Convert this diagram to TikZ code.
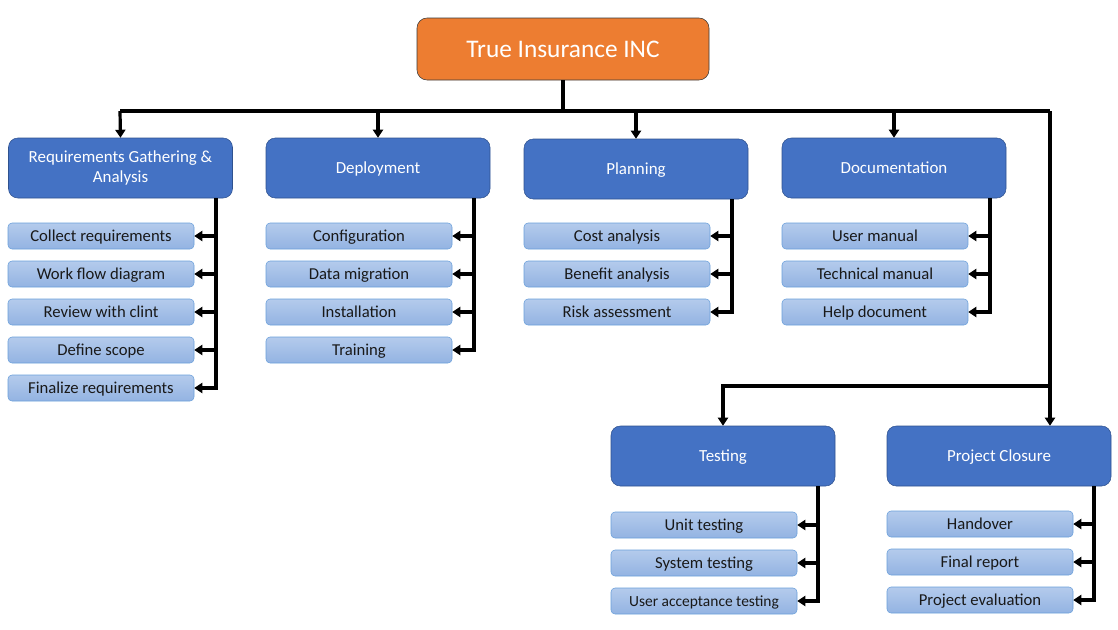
\documentclass[tikz,border=0pt]{standalone}
\usepackage{fontspec}
\setmainfont{Carlito}
\usetikzlibrary{arrows.meta}
\definecolor{rootorange}{HTML}{ED7D31}
\definecolor{rootedge}{HTML}{3A3A3A}
\definecolor{mainblue}{HTML}{4472C4}
\definecolor{mainedge}{HTML}{2F528F}
\definecolor{subtop}{HTML}{B4CBEC}
\definecolor{subbot}{HTML}{93B3E2}
\definecolor{subedge}{HTML}{6A9FDA}

\begin{document}
\begin{tikzpicture}[x=0.75pt,y=-0.75pt,
    rootbox/.style={draw=rootedge,fill=rootorange,rounded corners=7.5pt,minimum width=219pt,minimum height=46.5pt,text=white,font=\fontsize{19}{21}\selectfont},
    mainbox/.style={draw=mainedge,fill=mainblue,rounded corners=7pt,minimum width=168pt,minimum height=45pt,text=white,align=center,text height=10pt,text depth=2.5pt,font=\fontsize{12.7}{15}\selectfont},
    subbox/.style={draw=subedge,top color=subtop,bottom color=subbot,rounded corners=3pt,minimum width=139.5pt,minimum height=19.5pt,inner sep=0pt,text height=10pt,text depth=2pt,text=black!90,font=\fontsize{12.5}{14}\selectfont},
    line/.style={line width=2.4pt,line join=miter},
    arr/.style={line width=2.4pt,-{Triangle[width=7.5pt,length=6pt]}}]
  \useasboundingbox (0,0) rectangle (1118,629);
  %顶层
  \node[rootbox] (root) at (563,49) {True Insurance INC};
  \node[mainbox,text height={},text depth={}] (req) at (120.5,168) {Requirements Gathering \&\\Analysis};
  \node[mainbox] (dep) at (378,168) {Deployment};
  \node[mainbox] (plan) at (636,169) {Planning};
  \node[mainbox] (doc) at (894,168) {Documentation};
  \node[mainbox] (test) at (723,456) {Testing};
  \node[mainbox] (close) at (999,456) {Project Closure};
  %总线
  \coordinate (bus) at (120,111);
  \coordinate (busr) at (1050,111);
  \coordinate (fork) at (1050,386);
  \draw[line] (root.south) -- (root.south |- bus);
  \draw[line] (bus) -- (busr);
  \draw[arr] (bus) -- (req.north);
  \draw[arr] (dep.north |- bus) -- (dep.north);
  \draw[arr] (plan.north |- bus) -- (plan.north);
  \draw[arr] (doc.north |- bus) -- (doc.north);
  \draw[arr] (busr) -- (busr |- close.north);
  \draw[arr] (fork) -| (test.north);
  %需求
  \node[subbox] (r1) at (101,236) {Collect requirements};
  \node[subbox] (r2) at (101,274) {Work flow diagram};
  \node[subbox] (r3) at (101,312) {Review with clint};
  \node[subbox] (r4) at (101,350) {Define scope};
  \node[subbox] (r5) at (101,388) {Finalize requirements};
  \coordinate (reqv) at (216,0);
  \draw[arr] (reqv |- req.south) |- (r5.east);
  \foreach \c in {r1,r2,r3,r4} \draw[arr] (reqv |- \c.east) -- (\c.east);
  %部署
  \node[subbox] (d1) at (359,236) {Configuration};
  \node[subbox] (d2) at (359,274) {Data migration};
  \node[subbox] (d3) at (359,312) {Installation};
  \node[subbox] (d4) at (359,350) {Training};
  \coordinate (depv) at (474,0);
  \draw[arr] (depv |- dep.south) |- (d4.east);
  \foreach \c in {d1,d2,d3} \draw[arr] (depv |- \c.east) -- (\c.east);
  %计划
  \node[subbox] (p1) at (617,236) {Cost analysis};
  \node[subbox] (p2) at (617,274) {Benefit analysis};
  \node[subbox] (p3) at (617,312) {Risk assessment};
  \coordinate (planv) at (732,0);
  \draw[arr] (planv |- plan.south) |- (p3.east);
  \foreach \c in {p1,p2} \draw[arr] (planv |- \c.east) -- (\c.east);
  %文档
  \node[subbox] (m1) at (875,236) {User manual};
  \node[subbox] (m2) at (875,274) {Technical manual};
  \node[subbox] (m3) at (875,312) {Help document};
  \coordinate (docv) at (990,0);
  \draw[arr] (docv |- doc.south) |- (m3.east);
  \foreach \c in {m1,m2} \draw[arr] (docv |- \c.east) -- (\c.east);
  %测试
  \node[subbox] (t1) at (704,525) {Unit testing};
  \node[subbox] (t2) at (704,563) {System testing};
  \node[subbox] (t3) at (704,601) {\fontsize{11.6}{13}\selectfont User acceptance testing};
  \coordinate (testv) at (818,0);
  \draw[arr] (testv |- test.south) |- (t3.east);
  \foreach \c in {t1,t2} \draw[arr] (testv |- \c.east) -- (\c.east);
  %收尾
  \node[subbox] (c1) at (980,524) {Handover};
  \node[subbox] (c2) at (980,562) {Final report};
  \node[subbox] (c3) at (980,600) {Project evaluation};
  \coordinate (closev) at (1094,0);
  \draw[arr] (closev |- close.south) |- (c3.east);
  \foreach \c in {c1,c2} \draw[arr] (closev |- \c.east) -- (\c.east);
\end{tikzpicture}
\end{document}
